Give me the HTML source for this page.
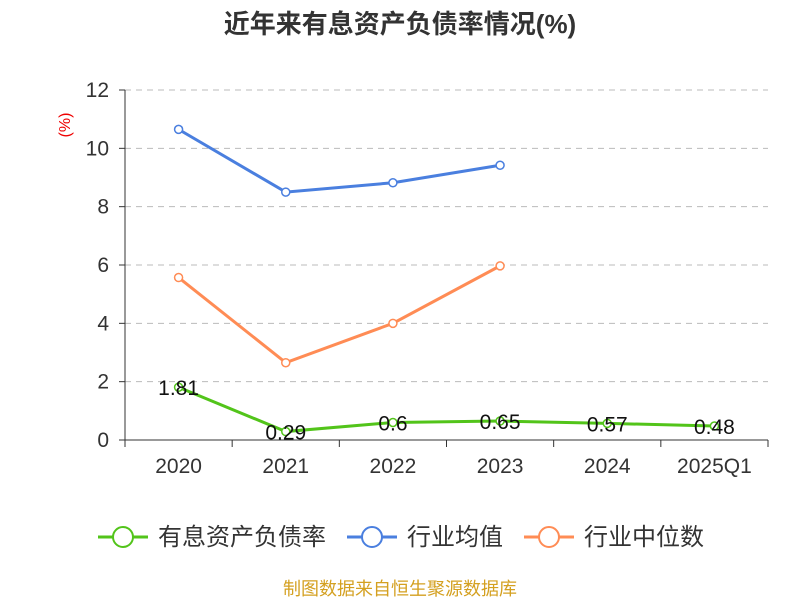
<!DOCTYPE html>
<html><head><meta charset="utf-8"><style>
body{margin:0;background:#fff;font-family:"Liberation Sans","Noto Sans CJK SC",sans-serif;}
</style></head><body>
<svg width="800" height="600" xmlns="http://www.w3.org/2000/svg" font-family="Liberation Sans, Noto Sans CJK SC, sans-serif">
<text x="400" y="33" text-anchor="middle" font-size="26" font-weight="bold" fill="#333">近年来有息资产负债率情况(%)</text>
<text x="70" y="125" text-anchor="middle" font-size="16" fill="#e00" transform="rotate(-90 70 125)">(%)</text>
<g id="grid"></g><g id="axes"></g><g id="series"></g>
<g>
<g><line x1="98" y1="537" x2="148" y2="537" stroke="#52c41a" stroke-width="3"/><circle cx="123" cy="537" r="10" fill="#fff" stroke="#52c41a" stroke-width="2"/><text x="158" y="545" font-size="24" fill="#333">有息资产负债率</text></g>
<g><line x1="347" y1="537" x2="397" y2="537" stroke="#4a7fdf" stroke-width="3"/><circle cx="372" cy="537" r="10" fill="#fff" stroke="#4a7fdf" stroke-width="2"/><text x="407" y="545" font-size="24" fill="#333">行业均值</text></g>
<g><line x1="524" y1="537" x2="574" y2="537" stroke="#ff8c55" stroke-width="3"/><circle cx="549" cy="537" r="10" fill="#fff" stroke="#ff8c55" stroke-width="2"/><text x="584" y="545" font-size="24" fill="#333">行业中位数</text></g>
</g>
<text x="400" y="595" text-anchor="middle" font-size="18" fill="#d4a020">制图数据来自恒生聚源数据库</text>
</svg>
<script>
const categories=["2020","2021","2022","2023","2024","2025Q1"];
const debtRatio=[1.81,0.29,0.6,0.65,0.57,0.48];
const industryAvg=[10.65,8.5,8.82,9.42];
const industryMedian=[5.57,2.65,4.0,5.97];
const yTicks=[0,2,4,6,8,10,12];
const NS="http://www.w3.org/2000/svg";
const x0=125,x1=768,y0=440,y1=90;
const band=(x1-x0)/categories.length;
const xs=i=>x0+band*(i+0.5);
const ys=v=>y0-(v/12)*(y0-y1);
function mk(t,a,p){const e=document.createElementNS(NS,t);for(const k in a)e.setAttribute(k,a[k]);p.appendChild(e);return e;}
const grid=document.getElementById('grid'),axes=document.getElementById('axes'),ser=document.getElementById('series');
yTicks.forEach(v=>{
 if(v>0){const g=mk('line',{x1:x0,x2:x1,y1:ys(v),y2:ys(v),stroke:'#bbb','stroke-dasharray':'6,5'},grid);
 }
 const t=mk('line',{x1:x0-6,x2:x0,y1:ys(v),y2:ys(v),stroke:'#333'},axes);
 
 const l=mk('text',{x:x0-16,y:ys(v)+7,'text-anchor':'end','font-size':21,fill:'#333'},axes);l.textContent=v;
 
});
const ya=mk('line',{x1:x0,x2:x0,y1:y1,y2:y0,stroke:'#333'},axes);

const xa=mk('line',{x1:x0,x2:x1,y1:y0,y2:y0,stroke:'#333'},axes);

for(let i=0;i<=categories.length;i++){const t=mk('line',{x1:x0+band*i,x2:x0+band*i,y1:y0,y2:y0+7,stroke:'#333'},axes);
 }
categories.forEach((c,i)=>{const l=mk('text',{x:xs(i),y:y0+33,'text-anchor':'middle','font-size':21,fill:'#333'},axes);l.textContent=c;
 });
function line(data,color,name,labels){
 const pts=data.map((v,i)=>xs(i)+','+ys(v)).join(' ');
 const p=mk('polyline',{points:pts,fill:'none',stroke:color,'stroke-width':3},ser);
 
 data.forEach((v,i)=>{const c=mk('circle',{cx:xs(i),cy:ys(v),r:4,fill:'#fff',stroke:color,'stroke-width':1.5},ser);
  
  if(labels){const t=mk('text',{x:xs(i),y:ys(v)+8,'text-anchor':'middle','font-size':21,fill:'#111'},ser);t.textContent=v;
   }
 });
}
line(industryAvg,'#4a7fdf','industry-avg',false);
line(industryMedian,'#ff8c55','industry-median',false);
line(debtRatio,'#52c41a','debt-ratio',true);
</script>
</body></html>
